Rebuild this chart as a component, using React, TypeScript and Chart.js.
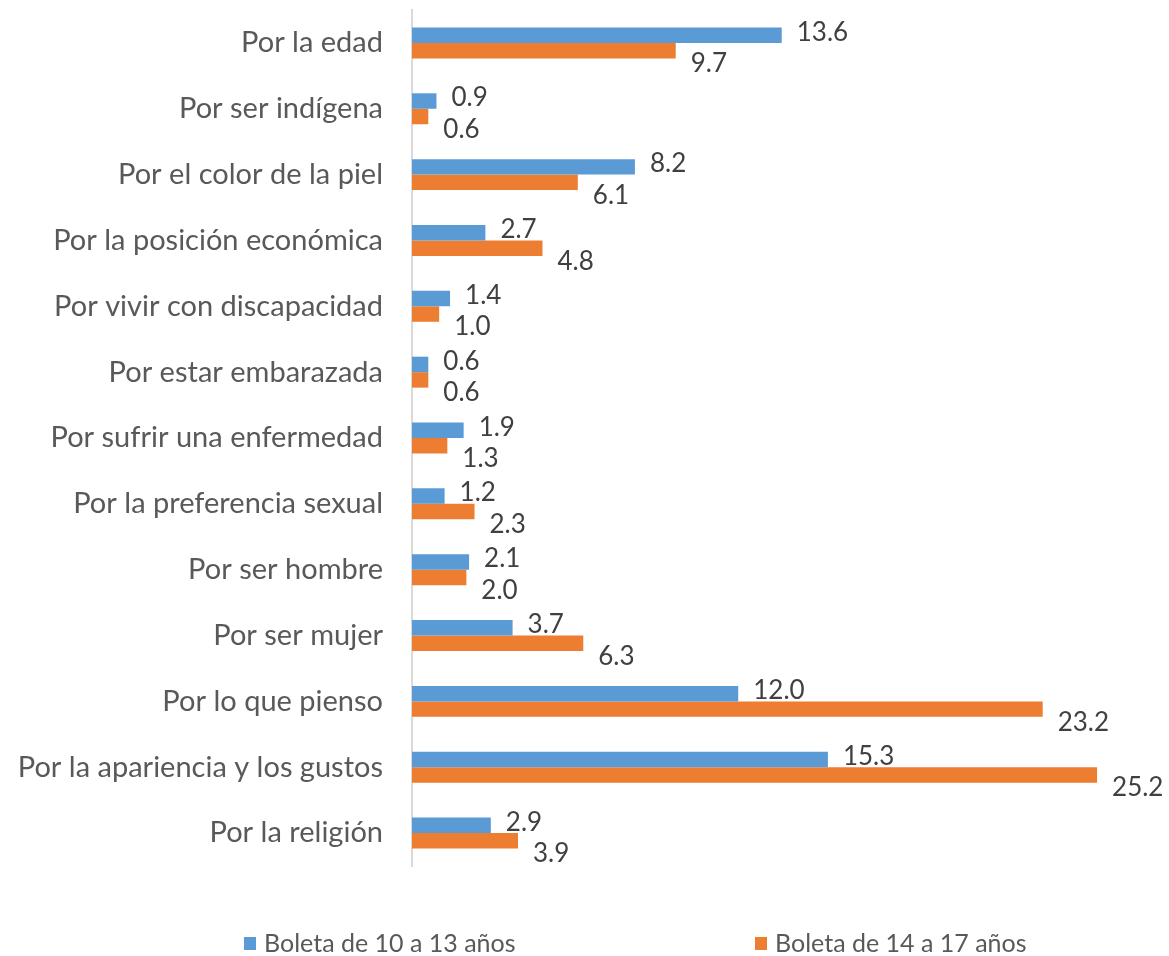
import React, { useEffect, useRef } from "react";
import { Chart, registerables } from "chart.js";

Chart.register(...registerables);

const categories = [
  "Por la edad",
  "Por ser indígena",
  "Por el color de la piel",
  "Por la posición económica",
  "Por vivir con discapacidad",
  "Por estar embarazada",
  "Por sufrir una enfermedad",
  "Por la preferencia sexual",
  "Por ser hombre",
  "Por ser mujer",
  "Por lo que pienso",
  "Por la apariencia y los gustos",
  "Por la religión",
];

const serie10a13 = [13.6, 0.9, 8.2, 2.7, 1.4, 0.6, 1.9, 1.2, 2.1, 3.7, 12.0, 15.3, 2.9];
const serie14a17 = [9.7, 0.6, 6.1, 4.8, 1.0, 0.6, 1.3, 2.3, 2.0, 6.3, 23.2, 25.2, 3.9];

const seriesNames = ["Boleta de 10 a 13 años", "Boleta de 14 a 17 años"];
const seriesColors = ["#5B9BD5", "#ED7D31"];

const FONT = "Lato, 'Open Sans', sans-serif";

const labelPlugin = {
  id: "valueLabels",
  afterDatasetsDraw(chart: any) {
    const ctx = chart.ctx;
    ctx.save();
    ctx.font = `26px ${FONT}`;
    ctx.fillStyle = "#404040";
    ctx.textAlign = "left";
    ctx.textBaseline = "middle";
    chart.data.datasets.forEach((ds: any, di: number) => {
      const meta = chart.getDatasetMeta(di);
      meta.data.forEach((bar: any, i: number) => {
        const v = ds.data[i];
        const dy = di === 0 ? -3 : 13;
        ctx.fillText(v.toFixed(1), bar.x + 15, bar.y + dy);
      });
    });
    ctx.restore();
  },
};

const legendPlugin = {
  id: "customLegend",
  afterDraw(chart: any) {
    const ctx = chart.ctx;
    ctx.save();
    ctx.font = `25px ${FONT}`;
    ctx.textBaseline = "middle";
    ctx.textAlign = "left";
    const y = 944;
    const xs = [244, 755];
    seriesNames.forEach((name, i) => {
      ctx.fillStyle = seriesColors[i];
      ctx.fillRect(xs[i], y - 7, 12, 13);
      ctx.fillStyle = "#595959";
      ctx.fillText(name, xs[i] + 20, y);
    });
    ctx.restore();
  },
};

export default function App() {
  const ref = useRef<HTMLCanvasElement>(null);
  useEffect(() => {
    if (!ref.current) return;
    const chart = new Chart(ref.current, {
      type: "bar",
      data: {
        labels: categories,
        datasets: [
          {
            label: seriesNames[0],
            data: serie10a13,
            backgroundColor: seriesColors[0],
            categoryPercentage: 0.47,
            barPercentage: 1.0,
          },
          {
            label: seriesNames[1],
            data: serie14a17,
            backgroundColor: seriesColors[1],
            categoryPercentage: 0.47,
            barPercentage: 1.0,
          },
        ],
      },
      options: {
        indexAxis: "y",
        responsive: false,
        animation: false,
        layout: { padding: { left: 0, right: 23, top: 10, bottom: 90 } },
        plugins: {
          legend: { display: false },
          tooltip: { enabled: false },
        },
        scales: {
          x: {
            display: false,
            min: 0,
            max: 27,
          },
          y: {
            afterFit: (s: any) => {
              s.width = 412;
              s.paddingTop = 0;
              s.paddingBottom = 0;
            },
            grid: { display: false, drawTicks: false },
            border: { display: true, color: "#D9D9D9", width: 2 },
            ticks: {
              padding: 29,
              color: "#595959",
              font: { family: FONT, size: 29 },
            },
          },
        },
      },
      plugins: [labelPlugin, legendPlugin],
    });
    return () => chart.destroy();
  }, []);
  return (
    <div style={{ position: "fixed", left: 0, top: 0, width: 1169, height: 956, background: "#fff" }}>
      <canvas ref={ref} width={1169} height={956} />
    </div>
  );
}
